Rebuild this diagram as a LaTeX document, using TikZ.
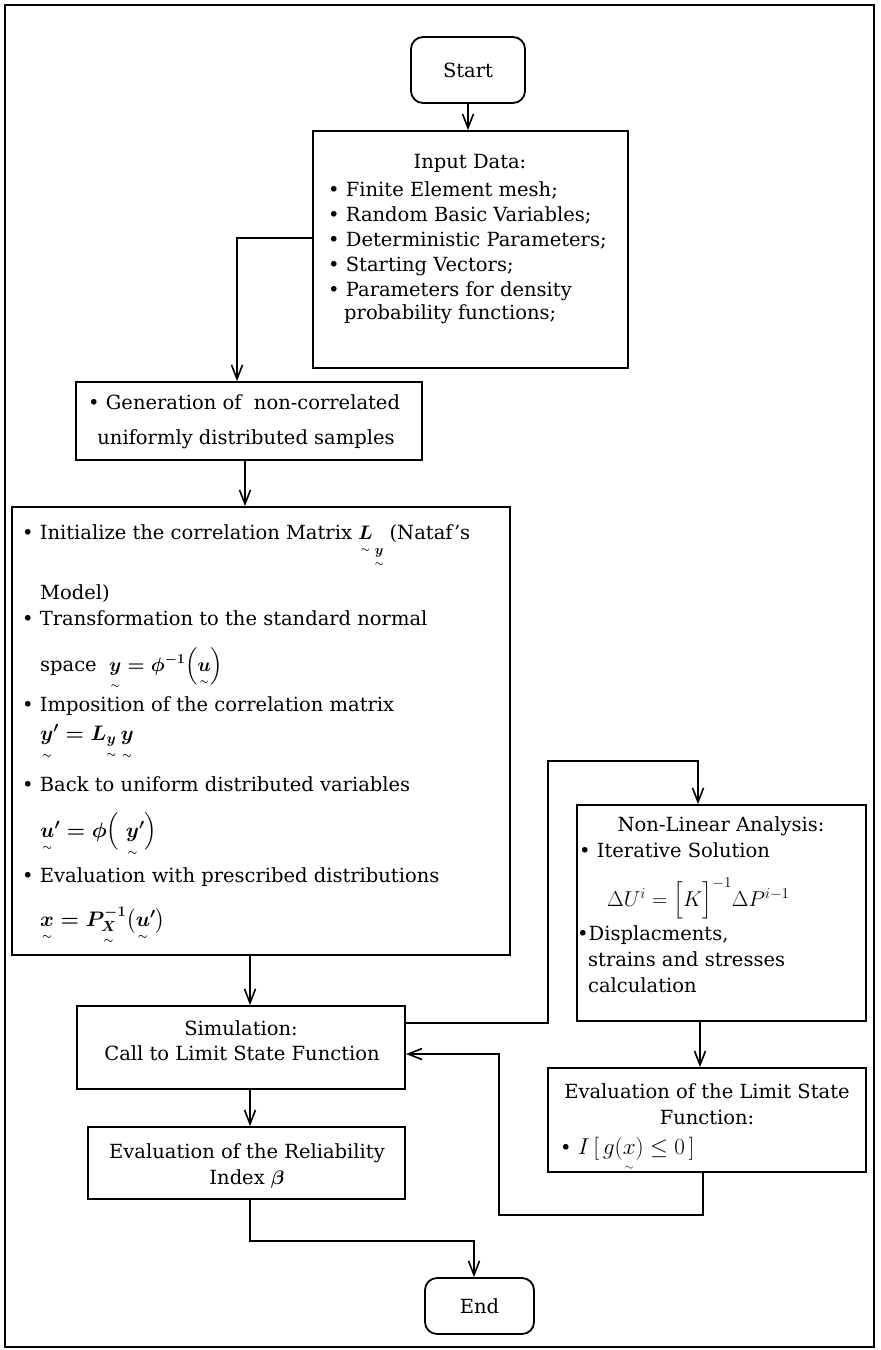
\RequirePackage{fix-cm}
\documentclass[tikz,border=0pt]{standalone}
\usepackage{amsmath}
\usepackage{fontspec}
\setmainfont{DejaVu Serif}
\usetikzlibrary{arrows.meta}
\newcommand{\ut}[1]{\smash[b]{\underset{\lower1.5pt\hbox{$\scriptscriptstyle\sim$}}{#1}}}
\newcommand{\uts}[1]{\smash[b]{\underset{\lower3pt\hbox{$\scriptscriptstyle\sim$}}{#1}}}
\newcommand{\bm}[1]{\mbox{\boldmath$#1$}}
\tikzset{
  box/.style={draw, line width=1.8pt, inner sep=0pt},
  term/.style={draw, line width=1.8pt, inner sep=0pt, rounded corners=12pt,
     font=\fontsize{19.5}{23}\selectfont},
  t/.style={font=\fontsize{19.5}{23}\selectfont, inner sep=0pt},
  tl/.style={t, anchor=base west},
  tc/.style={t, anchor=base},
  ml/.style={anchor=base west, inner sep=0pt, font=\fontsize{21}{25}\selectfont},
  arr/.style={line width=1.6pt, -{Straight Barb[length=14pt,width=11pt,line width=1.6pt]}}
}
\begin{document}
\begin{tikzpicture}[x=1pt,y=-1pt]
\useasboundingbox (0,0) rectangle (881,1350);
\draw[line width=1.5pt] (5,5) rectangle (874,1347);

% boxes
\node[term, minimum width=114pt, minimum height=66pt] (start) at (468,70) {Start};
\node[box, minimum width=315pt, minimum height=237pt] (input) at (470.5,249.5) {};
\node[box, minimum width=346pt, minimum height=78pt] (gen) at (249,421) {};
\node[box, minimum width=498pt, minimum height=448pt] (big) at (261,731) {};
\node[box, minimum width=289pt, minimum height=216pt] (nl) at (721.5,913) {};
\node[box, minimum width=318pt, minimum height=104pt] (lim) at (707,1120) {};
\node[box, minimum width=328pt, minimum height=83pt] (sim) at (241,1047.5) {};
\node[box, minimum width=317pt, minimum height=72pt] (rel) at (246.5,1163) {};
\node[term, minimum width=109pt, minimum height=56pt] (stop) at (479.5,1306) {End};

% input text
\node[tc] (in0) at (470,168) {Input Data:};
\node[tl] (in1) at (328,196) {\textbullet\ Finite Element mesh;};
\node[tl] (in2) at (328,221) {\textbullet\ Random Basic Variables;};
\node[tl] (in3) at (328,246) {\textbullet\ Deterministic Parameters;};
\node[tl] (in4) at (328,271) {\textbullet\ Starting Vectors;};
\node[tl] (in5) at (328,296) {\textbullet\ Parameters for density};
\node[tl] (in6) at (344,319) {probability functions;};

% generation text
\node[tl] (g1) at (88,409) {\textbullet\ Generation of\ \ non-correlated};
\node[tc] (g2) at (246,444) {uniformly distributed samples};

% big box text
\node[tl] (b1) at (22,539) {\textbullet\ Initialize the correlation Matrix \bm{\ut{L}}\hspace{2pt}\raisebox{-15pt}{\bm{\scriptstyle\ut{y}}}\hspace{6pt}(Nataf’s};
\node[tl] (b2) at (40,599) {Model)};
\node[tl] (b3) at (22,625) {\textbullet\ Transformation to the standard normal};
\node[tl] (b4) at (40,671) {space\ \ \bm{\ut{y} = \phi^{-1}\Bigl(\ut{u}\Bigr)}};
\node[tl] (b5) at (22,711) {\textbullet\ Imposition of the correlation matrix};
\node[ml] (b6) at (40,740) {\bm{\ut{y}^{\prime} = L_{\uts{y}}\,\ut{y}}};
\node[tl] (b7) at (22,791) {\textbullet\ Back to uniform distributed variables};
\node[ml] (b8) at (40,837) {\bm{\ut{u}^{\prime} = \phi\Bigl(\;\ut{y}^{\prime}\Bigr)}};
\node[tl] (b9) at (22,882) {\textbullet\ Evaluation with prescribed distributions};
\node[ml] (b10) at (40,926) {\bm{\ut{x} = P_{\uts{X}}^{-1}\bigl(\ut{u}^{\prime}\bigr)}};

% non-linear text
\node[tc] (n1) at (721,831) {Non-Linear Analysis:};
\node[tl] (n2) at (579,857) {\textbullet\ Iterative Solution};
\node[ml, font=\fontsize{21.5}{25}\selectfont] (n3) at (607,906) {$\Delta U^{i} = \Bigl[K\Bigr]^{-1}\Delta P^{i-1}$};
\node[tl] (n4) at (577,940) {\textbullet Displacments,};
\node[tl] (n5) at (588,966) {strains and stresses};
\node[tl] (n6) at (588,992) {calculation};

% limit text
\node[tc] (l1) at (707,1098) {Evaluation of the Limit State};
\node[tc] (l2) at (707,1124) {Function:};
\node[tl] (l3) at (560,1154) {\textbullet\ {\fontsize{23}{26}\selectfont$I\,[\,g(\ut{x})\leq 0\,]$}};

% simulation, reliability
\node[tc] (s1) at (241,1035) {Simulation:};
\node[tc] (s2) at (242,1060) {Call to Limit State Function};
\node[tc] (r1) at (247,1158) {Evaluation of the Reliability};
\node[tc] (r2) at (247,1184) {Index \bm{\beta}};

% connectors
\coordinate (c1) at (237,238);
\coordinate (c2) at (245,0);
\coordinate (c3) at (250,0);
\coordinate (c4) at (548,1023);
\coordinate (c5) at (698,761);
\coordinate (c6) at (700,0);
\coordinate (c7) at (703,1215);
\coordinate (c8) at (499,1054);
\coordinate (c9) at (474,1241);
\draw[arr] (start.south) -- (start.south |- input.north);
\draw[arr] (input.west |- c1) -- (c1) -- (c1 |- gen.north);
\draw[arr] (c2 |- gen.south) -- (c2 |- big.north);
\draw[arr] (c3 |- big.south) -- (c3 |- sim.north);
\draw[arr] (sim.east |- c4) -- (c4) |- (c5) -- (c5 |- nl.north);
\draw[arr] (c6 |- nl.south) -- (c6 |- lim.north);
\draw[arr] (c7 |- lim.south) -- (c7) -| (c8) -- (c8 -| sim.east);
\draw[arr] (c3 |- sim.south) -- (c3 |- rel.north);
\draw[arr] (c3 |- rel.south) |- (c9) -- (c9 |- stop.north);
\end{tikzpicture}
\end{document}
